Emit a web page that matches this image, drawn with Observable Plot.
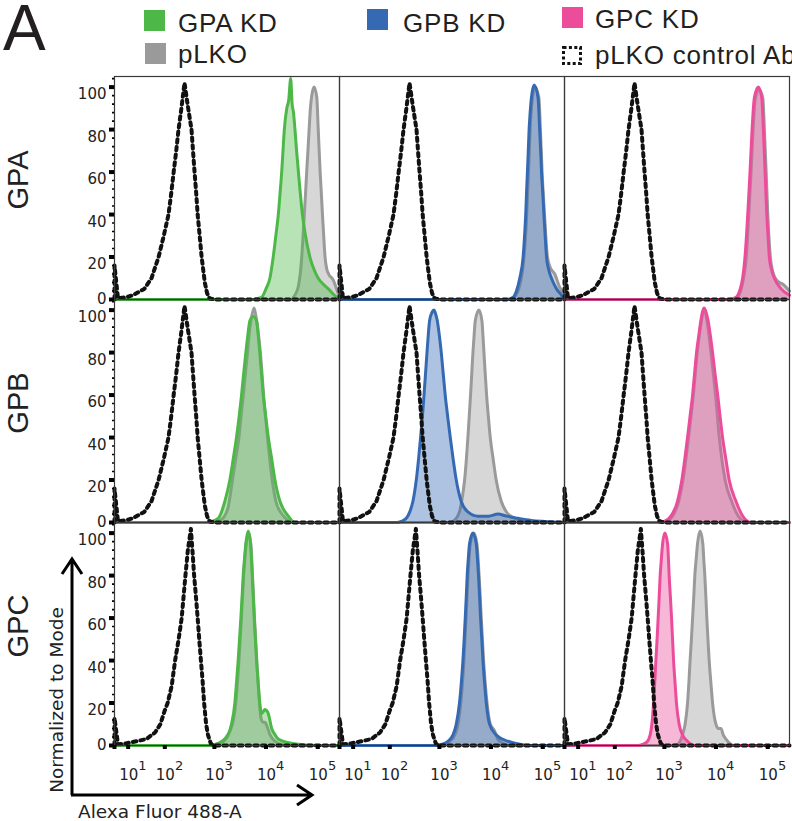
<!DOCTYPE html>
<html><head><meta charset="utf-8">
<script src="https://cdn.jsdelivr.net/npm/d3@7"></script>
<script src="https://cdn.jsdelivr.net/npm/@observablehq/plot@0.6"></script>
<style>body{margin:0;background:#fff;} svg{display:block}</style>
</head><body><div id="chart"></div>
<script>
// ---- categories ----
const rowsAb = ["GPA", "GPB", "GPC"];              // antibody stain (rows)
const colsKD = ["GPA KD", "GPB KD", "GPC KD"];     // knock-down (columns)
const legendLabels = ["GPA KD", "pLKO", "GPB KD", "GPC KD", "pLKO control Ab"];
const xTickValues = [0, 10, 100, 1000, 10000, 100000];
const yTickValues = [0, 20, 40, 60, 80, 100];

// ---- histograms: [fluorescence, % of mode] ----
const ctrlAb_GPA = [[0,0],[0,16],[2,0.6],[8,1],[15,2],[33,5],[50,10],[73,20],[95,30],[120,40],[137,50],[154,60],[174,70],[194,80],[222,90],[257,102],[300,91],[355,80],[380,70],[408,60],[440,50],[470,40],[515,30],[563,20],[650,8],[720,3],[806,0.5],[1000,0],[262144,0]];
const ctrlAb_GPB = [[0,0],[0,16],[2,0.6],[8,1],[15,2],[33,5],[50,10],[73,20],[95,30],[120,40],[137,50],[154,60],[174,70],[194,80],[222,90],[257,102],[300,91],[355,80],[380,70],[408,60],[440,50],[470,40],[515,30],[563,20],[650,8],[720,3],[806,0.5],[1000,0],[262144,0]];
const ctrlAb_GPC = [[0,0],[0,13],[2,0.6],[8,1],[20,2],[37,3],[60,6],[80,10],[98,16],[115,20],[140,28],[165,40],[195,50],[225,60],[250,72],[268,80],[300,92],[345,102],[375,90],[400,80],[435,70],[470,60],[505,50],[545,40],[590,30],[630,20],[690,10],[750,5],[850,1],[950,0],[262144,0]];

const gpaKD_GPA = [[0,0],[5000,0],[8200,1],[10000,5],[11900,10],[13800,20],[15500,30],[17300,40],[18700,50],[20100,60],[21300,70],[22600,80],[25200,90],[27500,94],[30000,104],[32000,92],[34000,88],[36300,80],[39000,70],[42300,60],[46000,50],[50500,40],[58000,30],[70400,20],[85000,14],[102000,10],[130000,7],[160000,5],[210000,2],[262144,0]];
const pLKO_GPA_a = [[0,0],[30000,0],[36000,2],[42000,6],[49000,20],[52000,30],[55000,40],[58000,50],[61000,60],[64500,70],[68000,80],[72000,90],[76500,96],[85000,100],[95700,95],[102000,80],[111000,60],[117000,50],[123000,40],[130000,30],[138000,20],[150000,14],[162000,12],[200000,9],[230000,5],[262144,1]];
const gpbKD_GPA = [[0,0],[20000,0],[26700,1],[31000,4],[35900,10],[41700,20],[44500,30],[46800,40],[48500,50],[50500,60],[52500,70],[54400,80],[57000,88],[60300,95],[68000,101],[81000,95],[87000,80],[91000,70],[94500,60],[100000,50],[105000,40],[111000,30],[118000,20],[130000,14],[147000,10],[184000,5],[230000,2],[262144,0]];
const pLKO_GPA_b = [[0,0],[22000,0],[28000,1],[37000,8],[43500,20],[49000,40],[53000,60],[57000,80],[63000,95],[71000,100],[84000,95],[90000,80],[97000,60],[108000,40],[123000,20],[140000,15],[170000,12],[210000,6],[262144,2]];
const gpcKD_GPA = [[0,0],[18000,0],[24300,1],[28500,4],[32700,10],[36300,20],[38800,30],[41000,40],[43200,50],[45400,60],[47500,70],[49700,80],[52000,88],[55000,95],[65700,100],[76500,95],[82200,80],[85500,70],[88700,60],[92000,50],[95700,40],[101000,30],[107000,20],[118000,14],[134000,10],[181000,5],[262144,2]];
const pLKO_GPA_c = [[0,0],[20000,0],[26000,1],[34000,10],[38500,20],[43000,40],[47500,60],[52000,80],[57000,94],[67000,99],[80000,95],[86000,80],[93000,60],[100000,40],[112000,20],[125000,13],[150000,9],[200000,7],[262144,4]];

const gpaKD_GPB = [[0,0],[700,0],[882,0.5],[1193,2],[1603,10],[2000,20],[2330,30],[2690,40],[3030,50],[3370,60],[3700,70],[4080,80],[4450,88],[4880,95],[5680,97],[6580,95],[7100,88],[7600,80],[8200,70],[8870,60],[9900,50],[11100,40],[12900,30],[14900,20],[18600,10],[22000,6],[27000,3],[36000,0],[262144,0]];
const pLKO_GPB_a = [[0,0],[900,0],[1300,1],[1800,6],[2250,20],[2600,30],[3000,40],[3300,50],[3650,60],[4000,70],[4400,80],[4800,90],[5200,96],[5900,101],[6500,96],[7200,88],[7800,80],[8400,70],[9000,60],[9800,50],[10700,40],[11800,30],[13200,20],[15500,10],[19000,5],[24000,2],[30000,0],[262144,0]];
const gpbKD_GPB = [[0,0],[140,0],[174,0.5],[221,2],[260,5],[301,10],[351,20],[390,30],[427,40],[465,50],[500,60],[535,70],[572,80],[605,88],[643,95],[720,99],[785,100],[850,98],[911,95],[1000,88],[1090,80],[1190,70],[1300,60],[1450,50],[1630,40],[1850,30],[2130,20],[2650,10],[3580,5],[5600,3],[9000,3],[13600,4],[20000,3],[33000,2],[60000,1],[110000,0.5],[262144,0]];
const pLKO_GPB_b = [[0,0],[1600,0],[1970,1],[2460,5],[2800,12],[3090,20],[3350,30],[3580,40],[3800,50],[4030,60],[4250,70],[4480,80],[4720,88],[4970,95],[5850,100],[6690,95],[7000,88],[7320,80],[7750,70],[8230,60],[8900,50],[9690,40],[11000,30],[12600,20],[15800,10],[19800,5],[28600,2],[44700,0],[262144,0]];
const gpcKD_GPB = [[0,0],[800,0],[1000,0.5],[1340,3],[1800,10],[2190,20],[2500,30],[2820,40],[3150,50],[3530,60],[3850,70],[4210,80],[4650,88],[5100,95],[5900,101],[7050,95],[7800,88],[8600,80],[9600,70],[10800,60],[12000,50],[13400,40],[15500,30],[18000,20],[24300,10],[32800,3],[47400,0],[262144,0]];
const pLKO_GPB_c = [[0,0],[900,0],[1100,0.5],[1450,3],[1900,10],[2300,20],[2950,40],[3650,60],[4350,80],[5250,95],[5800,100],[6700,95],[8000,80],[9800,60],[11600,40],[15000,20],[20000,10],[27000,3],[40000,0],[262144,0]];

const gpaKD_GPC = [[0,0],[800,0],[1020,0.5],[1490,2],[1860,5],[2150,10],[2500,20],[2700,30],[2900,40],[3080,50],[3270,60],[3450,70],[3630,80],[3850,88],[4080,95],[4540,101],[5030,95],[5430,80],[5680,70],[5930,60],[6250,50],[6580,40],[7050,30],[7600,20],[8220,15],[8900,16],[9500,17],[10300,16.5],[11100,15],[12900,8],[15000,5],[17300,3],[31600,1],[100000,0],[262144,0]];
const pLKO_GPC_a = [[0,0],[900,0],[1200,1],[1700,4],[2250,10],[2600,20],[3000,40],[3350,60],[3700,80],[4150,95],[4600,100],[5100,95],[5500,80],[6000,60],[6650,40],[7500,20],[8000,13],[8700,11],[9600,11],[10500,9],[12000,5],[15000,2],[20000,0.5],[30000,0],[262144,0]];
const gpbKD_GPC = [[0,0],[800,0],[1090,0.5],[1470,2],[1840,5],[2130,10],[2460,20],[2680,30],[2870,40],[3030,50],[3180,60],[3330,70],[3470,80],[3650,88],[3850,95],[4480,100],[5190,95],[5480,88],[5750,80],[6030,70],[6300,60],[6650,50],[7000,40],[7500,30],[8120,20],[9400,10],[12600,5],[21300,2],[60000,0],[262144,0]];
const pLKO_GPC_b = [[0,0],[900,0],[1200,0.5],[1600,2],[2000,5],[2300,10],[2600,20],[3000,40],[3300,60],[3600,80],[4000,95],[4650,100],[5350,95],[5900,80],[6500,60],[7200,40],[8400,20],[9700,10],[11700,7],[13500,3],[17000,1],[24000,0],[262144,0]];
const gpcKD_GPC = [[0,0],[300,0],[372,0.5],[468,2],[527,5],[569,10],[614,20],[650,30],[683,40],[720,50],[756,60],[792,70],[828,80],[875,88],[924,95],[1020,100],[1156,95],[1200,88],[1240,80],[1310,70],[1380,60],[1445,50],[1510,40],[1610,30],[1720,20],[1940,10],[2250,5],[2820,2],[3780,0],[262144,0]];
const pLKO_GPC_c = [[0,0],[1400,0],[1800,0.5],[2250,5],[2530,10],[2820,20],[3000,30],[3160,40],[3350,50],[3530,60],[3720,70],[3900,80],[4150,88],[4400,95],[4940,101],[5570,95],[5800,88],[6090,80],[6380,70],[6660,60],[7000,50],[7390,40],[7950,30],[8600,20],[10000,10],[11200,8],[12500,8],[13800,5],[15600,3],[22500,0],[262144,0]];

// ---- colours ----
const colKD = ["#4db848", "#356ab3", "#ec4d9b"];
const colPLKO = "#9a9a9a";

// ---- table built from the arrays ----
const panels = [
  ["GPA","GPA KD",gpaKD_GPA,pLKO_GPA_a,ctrlAb_GPA],["GPA","GPB KD",gpbKD_GPA,pLKO_GPA_b,ctrlAb_GPA],["GPA","GPC KD",gpcKD_GPA,pLKO_GPA_c,ctrlAb_GPA],
  ["GPB","GPA KD",gpaKD_GPB,pLKO_GPB_a,ctrlAb_GPB],["GPB","GPB KD",gpbKD_GPB,pLKO_GPB_b,ctrlAb_GPB],["GPB","GPC KD",gpcKD_GPB,pLKO_GPB_c,ctrlAb_GPB],
  ["GPC","GPA KD",gpaKD_GPC,pLKO_GPC_a,ctrlAb_GPC],["GPC","GPB KD",gpbKD_GPC,pLKO_GPC_b,ctrlAb_GPC],["GPC","GPC KD",gpcKD_GPC,pLKO_GPC_c,ctrlAb_GPC]
];
const kdData = [], plkoData = [], ctrlData = [];
for (const [row, col, kd, plko, ctrl] of panels) {
  kd.forEach(([x, y]) => kdData.push({row, col, x, y}));
  plko.forEach(([x, y]) => plkoData.push({row, col, x, y}));
  ctrl.forEach(([x, y]) => ctrlData.push({row, col, x, y}));
}
const yMinor = d3.range(0, 105, 4);

const chart = Plot.plot({
  width: 792, height: 821,
  marginTop: 75, marginLeft: 113, marginRight: 3, marginBottom: 75,
  style: {fontFamily: "DejaVu Sans", background: "#fff"},
  x: {type: "symlog", constant: 12, domain: [0, 262144]},
  y: {domain: [0, 105]},
  fx: {domain: colsKD, padding: 0, axis: null},
  fy: {domain: rowsAb, padding: 0, axis: null},
  color: {domain: colsKD, range: colKD},
  marks: [
    Plot.areaY(plkoData, {fx: "col", fy: "row", x: "x", y: "y", fill: colPLKO, fillOpacity: 0.4, curve: "monotone-x"}),
    Plot.line(plkoData, {fx: "col", fy: "row", x: "x", y: "y", stroke: colPLKO, strokeWidth: 3, curve: "monotone-x"}),
    Plot.areaY(kdData, {fx: "col", fy: "row", x: "x", y: "y", fill: "col", fillOpacity: 0.4, curve: "monotone-x"}),
    Plot.line(kdData, {fx: "col", fy: "row", x: "x", y: "y", stroke: "col", strokeWidth: 3, curve: "monotone-x"}),
    Plot.line(ctrlData, {fx: "col", fy: "row", x: "x", y: "y", stroke: "#111", strokeWidth: 4, strokeDasharray: "3.5,4.2", curve: "linear"}),
    Plot.frame({stroke: "#3a3a3a", strokeWidth: 1.2}),
    Plot.axisY({ticks: yMinor, tickSize: 2, strokeWidth: 1.6, tickFormat: () => "", label: null}),
    Plot.axisY({ticks: yTickValues, tickSize: 5, strokeWidth: 4, tickPadding: 3, fontSize: 15, fill: "#222", label: null}),
    Plot.axisX({ticks: xTickValues, tickSize: 4, strokeWidth: 4, tickPadding: 20, fontSize: 15, fill: "#222", label: null,
      tickFormat: d => d === 0 ? "" : "10^" + Math.round(Math.log10(d))}),
    Plot.text(rowsAb, {fx: () => "GPA KD", fy: d => d, text: d => d, frameAnchor: "left", textAnchor: "middle",
      dx: -96, dy: -8, rotate: -90, fontSize: 29, fontFamily: "Liberation Sans", fill: "#222"})
  ]
});
document.getElementById("chart").append(chart);

// superscript exponents on the x tick labels
d3.select(chart).selectAll('g[aria-label="x-axis tick label"] text').each(function () {
  const t = d3.select(this), s = t.text();
  if (!s.includes("^")) return;
  const [b, e] = s.split("^");
  t.text(null).attr("text-anchor", "start");
  t.append("tspan").attr("dx", -9).text(b);
  t.append("tspan").attr("dy", -10).attr("font-size", 13).text(e);
});
// y tick labels: nudge as in the original (the 0 sits a little higher)
d3.select(chart).selectAll('g[aria-label="y-axis tick label"] text').each(function () {
  const t = d3.select(this);
  if (t.text() === "0") t.attr("dy", "-0.05em");
  else if (t.text() !== "") t.attr("dy", "0.5em");
});

// panel letter, legend, axis arrows and titles
const svg = d3.select(chart);
const deco = svg.append("g").attr("font-family", "Liberation Sans, Arial, sans-serif").attr("fill", "#231f20").attr("text-anchor", "start");
deco.append("text").attr("x", 3).attr("y", 50).attr("font-size", 64).text("A");
const legendItems = [
  {label: legendLabels[0], c: colKD[0], x: 144, y: 10, tx: 178, ty: 32},
  {label: legendLabels[1], c: colPLKO, x: 145, y: 43, tx: 178, ty: 63},
  {label: legendLabels[2], c: colKD[1], x: 367, y: 9, tx: 403, ty: 32},
  {label: legendLabels[3], c: colKD[2], x: 562, y: 7, tx: 595, ty: 28},
  {label: legendLabels[4], c: null, x: 562, y: 46, tx: 595, ty: 64}
];
for (const it of legendItems) {
  if (it.c) deco.append("rect").attr("x", it.x).attr("y", it.y).attr("width", 21).attr("height", 21).attr("fill", it.c);
  else deco.append("rect").attr("x", it.x + 1.5).attr("y", it.y + 1.5).attr("width", 17).attr("height", 16)
        .attr("fill", "none").attr("stroke", "#111").attr("stroke-width", 3).attr("stroke-dasharray", "3,2.4");
  deco.append("text").attr("x", it.tx).attr("y", it.ty).attr("font-size", 26).attr("letter-spacing", 0.8).text(it.label);
}
const arr = svg.append("g").attr("fill", "none").attr("stroke", "#000").attr("stroke-width", 3);
arr.append("path").attr("d", "M72,795V560M62,574L72,559L82,574");
arr.append("path").attr("d", "M71,795H311M297,785L312,795L297,805");
const titles = svg.append("g").attr("font-family", "DejaVu Sans").attr("font-size", 18.5).attr("fill", "#222").attr("text-anchor", "start");
titles.append("text").attr("transform", "translate(62.5,700) rotate(-90)").attr("text-anchor", "middle").text("Normalized to Mode");
titles.append("text").attr("x", 78).attr("y", 818).text("Alexa Fluor 488-A");
</script></body></html>
